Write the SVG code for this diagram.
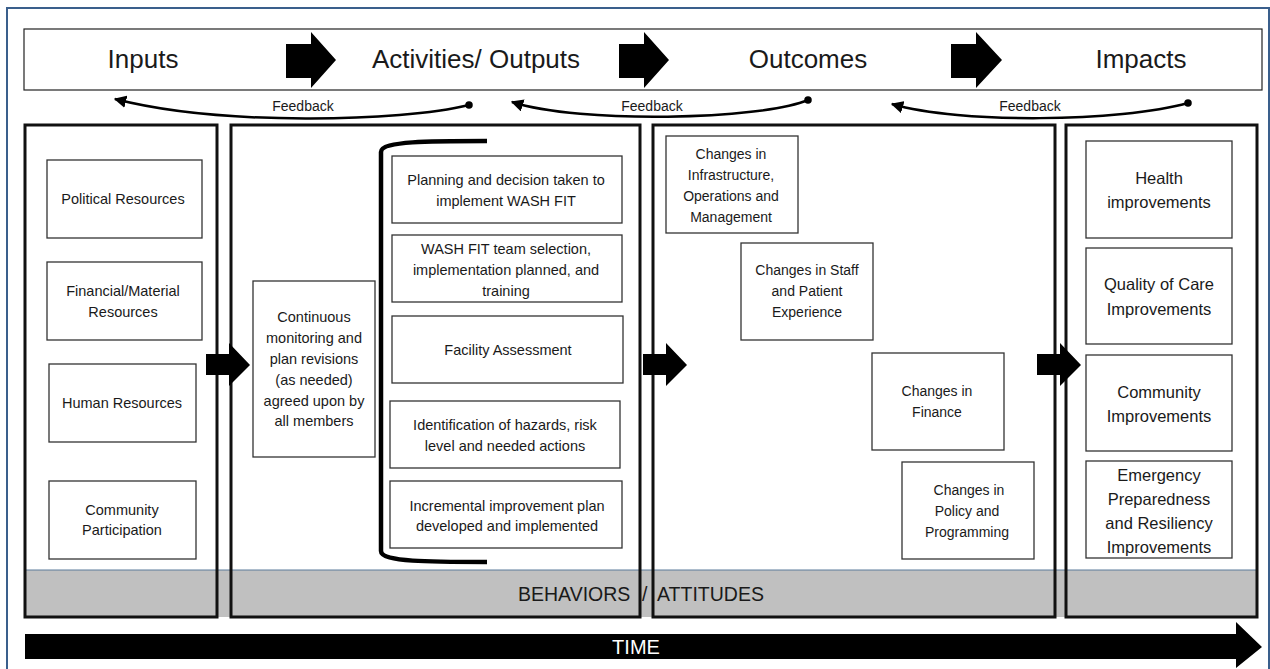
<svg xmlns="http://www.w3.org/2000/svg" width="1270" height="669" viewBox="0 0 1270 669">
<defs>
<style>
text{font-family:"Liberation Sans",Arial,sans-serif;fill:#1a1a1a;text-anchor:middle}
.hd{font-size:26px}
.bx{fill:#fff;stroke:#333;stroke-width:1.3}
.col{fill:none;stroke:#111;stroke-width:3}
.t{font-size:14.5px}
.to{font-size:14px}
.tm{font-size:14.5px}
.ti{font-size:16.5px}
.fb{font-size:14px}
.blk{fill:#000}
.fl{fill:none;stroke:#000;stroke-width:2.5}
</style>
<marker id="ah" viewBox="0 0 10 10" refX="9" refY="5" markerWidth="5" markerHeight="5" orient="auto"><path d="M0,0 L10,5 L0,10 z" fill="#000"/></marker>
<marker id="dot" viewBox="0 0 10 10" refX="5" refY="5" markerWidth="3" markerHeight="3"><circle cx="5" cy="5" r="5" fill="#000"/></marker>
</defs>
<rect x="0" y="0" width="1270" height="669" fill="#fff"/>
<rect x="7" y="8" width="1262" height="670" fill="#fff" stroke="#3a5f8c" stroke-width="2"/>

<g id="header">
<rect x="24" y="29" width="1238" height="61" fill="#fff" stroke="#222" stroke-width="1.2"/>
<text class="hd" x="143" y="68">Inputs</text>
<text class="hd" x="476" y="68">Activities/ Outputs</text>
<text class="hd" x="808" y="68">Outcomes</text>
<text class="hd" x="1141" y="68">Impacts</text>
<path class="blk" d="M286,44 H311 V32 L336,60 L311,88 V78 H286 Z"/>
<path class="blk" d="M619,44 H644 V32 L669,60 L644,88 V78 H619 Z"/>
<path class="blk" d="M951,44 H976 V32 L1002,60 L976,88 V78 H951 Z"/>
</g>

<g id="connectors">
<path class="fl" d="M469,105 C400,122 220,126 115,99" marker-start="url(#dot)" marker-end="url(#ah)"/>
<path class="fl" d="M808,100 C760,120 580,124 512,102" marker-start="url(#dot)" marker-end="url(#ah)"/>
<path class="fl" d="M1188,103 C1120,122 960,124 892,104" marker-start="url(#dot)" marker-end="url(#ah)"/>
<text class="fb" x="303" y="111">Feedback</text>
<text class="fb" x="652" y="111">Feedback</text>
<text class="fb" x="1030" y="111">Feedback</text>
</g>

<g id="behaviors-band">
<rect x="25" y="570" width="1232" height="47" fill="#c0c0c0"/>
<line x1="25" y1="570" x2="1257" y2="570" stroke="#5a7a9a" stroke-width="1"/>
</g>

<g id="columns">
<rect class="col" x="25" y="125" width="192" height="492"/>
<rect class="col" x="231" y="125" width="409" height="492"/>
<rect class="col" x="653" y="125" width="402" height="492"/>
<rect class="col" x="1066" y="125" width="191" height="492"/>
</g>
<text y="601" style="font-size:19.5px;text-anchor:start"><tspan x="518">BEHAVIORS </tspan><tspan x="642">/ </tspan><tspan x="657">ATTITUDES</tspan></text>

<g id="inputs">
<g id="n-political"><rect class="bx" x="47" y="160" width="155" height="78"/><text class="tm" x="123" y="204">Political Resources</text></g>
<g id="n-financial"><rect class="bx" x="47" y="262" width="155" height="78"/><text class="tm" x="123" y="296">Financial/Material</text><text class="tm" x="123" y="317">Resources</text></g>
<g id="n-human"><rect class="bx" x="49" y="364" width="147" height="78"/><text class="tm" x="122" y="408">Human Resources</text></g>
<g id="n-community"><rect class="bx" x="49" y="481" width="147" height="78"/><text class="tm" x="122" y="515">Community</text><text class="tm" x="122" y="535">Participation</text></g>
</g>

<g id="activities">
<g id="n-monitoring"><rect class="bx" x="253" y="281" width="122" height="176"/>
<text class="tm" x="314" y="322">Continuous</text><text class="tm" x="314" y="343">monitoring and</text><text class="tm" x="314" y="364">plan revisions</text><text class="tm" x="314" y="385">(as needed)</text><text class="tm" x="314" y="406">agreed upon by</text><text class="tm" x="314" y="426">all members</text></g>
<path id="bracket" d="M487,141 C430,141 381,141 381,152 V551 C381,562 430,562 487,562" fill="none" stroke="#000" stroke-width="4.5"/>
<g id="n-planning"><rect class="bx" x="392" y="156" width="230" height="67"/><text class="t" x="506" y="185">Planning and decision taken to</text><text class="t" x="506" y="206">implement WASH FIT</text></g>
<g id="n-team"><rect class="bx" x="392" y="235" width="230" height="67"/><text class="t" x="506" y="254">WASH FIT team selection,</text><text class="t" x="506" y="275">implementation planned, and</text><text class="t" x="506" y="296">training</text></g>
<g id="n-facility"><rect class="bx" x="392" y="316" width="231" height="67"/><text class="t" x="508" y="355">Facility Assessment</text></g>
<g id="n-hazards"><rect class="bx" x="390" y="401" width="230" height="67"/><text class="t" x="505" y="430">Identification of hazards, risk</text><text class="t" x="505" y="451">level and needed actions</text></g>
<g id="n-incremental"><rect class="bx" x="390" y="481" width="232" height="67"/><text class="t" x="507" y="511">Incremental improvement plan</text><text class="t" x="507" y="531">developed and implemented</text></g>
</g>

<g id="outcomes">
<g id="n-infra"><rect class="bx" x="666" y="136" width="132" height="97"/><text class="to" x="731" y="159">Changes in</text><text class="to" x="731" y="180">Infrastructure,</text><text class="to" x="731" y="201">Operations and</text><text class="to" x="731" y="222">Management</text></g>
<g id="n-staff"><rect class="bx" x="741" y="243" width="132" height="97"/><text class="to" x="807" y="275">Changes in Staff</text><text class="to" x="807" y="296">and Patient</text><text class="to" x="807" y="317">Experience</text></g>
<g id="n-finance"><rect class="bx" x="872" y="353" width="132" height="97"/><text class="to" x="937" y="396">Changes in</text><text class="to" x="937" y="417">Finance</text></g>
<g id="n-policy"><rect class="bx" x="902" y="462" width="132" height="97"/><text class="to" x="969" y="495">Changes in</text><text class="to" x="967" y="516">Policy and</text><text class="to" x="967" y="537">Programming</text></g>
</g>

<g id="impacts">
<g id="n-health"><rect class="bx" x="1086" y="141" width="146" height="97"/><text class="ti" x="1159" y="184">Health</text><text class="ti" x="1159" y="208">improvements</text></g>
<g id="n-quality"><rect class="bx" x="1086" y="248" width="146" height="96"/><text class="ti" x="1159" y="290">Quality of Care</text><text class="ti" x="1159" y="315">Improvements</text></g>
<g id="n-communityimp"><rect class="bx" x="1086" y="355" width="146" height="96"/><text class="ti" x="1159" y="398">Community</text><text class="ti" x="1159" y="422">Improvements</text></g>
<g id="n-emergency"><rect class="bx" x="1086" y="461" width="146" height="97"/><text class="ti" x="1159" y="481">Emergency</text><text class="ti" x="1159" y="505">Preparedness</text><text class="ti" x="1159" y="529">and Resiliency</text><text class="ti" x="1159" y="553">Improvements</text></g>
</g>

<g id="column-arrows">
<path class="blk" d="M206,354 H229 V343 L250,365 L229,386 V375 H206 Z"/>
<path class="blk" d="M643,354 H666 V343 L687,365 L666,386 V375 H643 Z"/>
<path class="blk" d="M1037,354 H1060 V343 L1081,365 L1060,386 V375 H1037 Z"/>
</g>

<g id="time">
<path class="blk" d="M25,634 H1236 V622 L1262,647 L1236,668 V659 H25 Z"/>
<text x="636" y="654" style="font-size:20px;fill:#fff">TIME</text>
</g>
</svg>
